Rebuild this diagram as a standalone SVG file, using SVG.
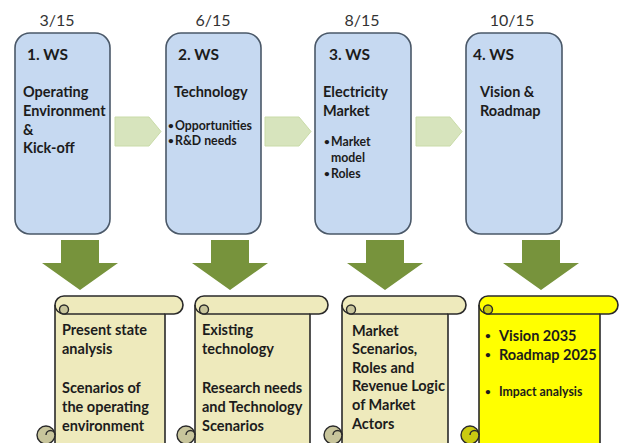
<svg xmlns="http://www.w3.org/2000/svg" width="620" height="443" viewBox="0 0 620 443">
  <defs>
    <style>
      text { font-family: Lato, "Liberation Sans", sans-serif; fill: #1c1c1c; }
      .date { font-size: 16px; fill: #333; text-anchor: middle; }
      .title { font-size: 15.5px; font-weight: bold; }
      .body { font-size: 14.5px; font-weight: bold; }
      .small { font-size: 12.3px; font-weight: bold; }
      .dot { font-size: 10px; font-weight: bold; }
      .ws { fill: #c6d9f1; stroke: #4a5868; stroke-width: 1.6; }
      .step { fill: #d7e4bd; stroke: #c9dba8; stroke-width: 1; }
      .down { fill: #77933c; }
      .paper { fill: #eeeabc; stroke: #2a2a2a; stroke-width: 1.6; stroke-linejoin: round; }
      .paper.hl { fill: #ffff00; }
      .curl { fill: #c8c59c; stroke: #2a2a2a; stroke-width: 1.4; }
      .curl.hl { fill: #caca10; }
      .line { fill: none; stroke: #2a2a2a; stroke-width: 1.4; }
    </style>
  </defs>

  <!-- dates -->
  <g id="dates">
    <text class="date" x="57" y="26">3/15</text>
    <text class="date" x="213" y="26">6/15</text>
    <text class="date" x="362" y="26">8/15</text>
    <text class="date" x="512" y="26">10/15</text>
  </g>

  <!-- workshop nodes -->
  <g id="ws1">
    <rect class="ws" x="15" y="33" width="95" height="201" rx="15"/>
    <text class="title" x="27" y="60">1. WS</text>
    <text class="body" x="23" y="97">Operating</text>
    <text class="body" x="23" y="116">Environment</text>
    <text class="body" x="23" y="135">&amp;</text>
    <text class="body" x="23" y="153">Kick-off</text>
  </g>
  <g id="ws2">
    <rect class="ws" x="166" y="33" width="95" height="201" rx="15"/>
    <text class="title" x="178" y="60">2. WS</text>
    <text class="body" x="174" y="97">Technology</text>
    <text class="dot" x="168" y="129">•</text>
    <text class="small" x="175" y="130">Opportunities</text>
    <text class="dot" x="168" y="144">•</text>
    <text class="small" x="175" y="145">R&amp;D needs</text>
  </g>
  <g id="ws3">
    <rect class="ws" x="315" y="33" width="96" height="201" rx="15"/>
    <text class="title" x="329" y="60">3. WS</text>
    <text class="body" x="323" y="97">Electricity</text>
    <text class="body" x="323" y="116">Market</text>
    <text class="dot" x="324" y="145">•</text>
    <text class="small" x="331" y="146">Market</text>
    <text class="small" x="331" y="162">model</text>
    <text class="dot" x="324" y="177">•</text>
    <text class="small" x="331" y="178">Roles</text>
  </g>
  <g id="ws4">
    <rect class="ws" x="466" y="33" width="96" height="201" rx="15"/>
    <text class="title" x="473" y="60">4. WS</text>
    <text class="body" x="480" y="97">Vision &amp;</text>
    <text class="body" x="480" y="116">Roadmap</text>
  </g>

  <!-- connectors -->
  <g id="connectors">
    <polygon class="step" points="115,117 149,117 161,131.5 149,146 115,146"/>
    <polygon class="step" points="265,117 299,117 311,131.5 299,146 265,146"/>
    <polygon class="step" points="416,117 450,117 462,131.5 450,146 416,146"/>
    <polygon class="down" points="61,240 99,240 99,263 118,263 80,290 42,263 61,263"/>
    <polygon class="down" points="211,240 249,240 249,263 268,263 230,290 192,263 211,263"/>
    <polygon class="down" points="366,240 404,240 404,263 423,263 385,290 347,263 366,263"/>
    <polygon class="down" points="522,240 560,240 560,263 579,263 541,290 503,263 522,263"/>
  </g>

  <!-- result scrolls -->
  <g id="out1">
    <path class="paper" d="M55,305 A9,9 0 0 1 64,296 H174 A9,9 0 0 1 174,314 H165 V452 H55 Z"/>
    <path class="line" d="M64,314 H165 M55,305 A9,9 0 0 0 64,314"/>
    <circle class="curl" cx="64" cy="309.5" r="4.5"/>
    <circle class="curl" cx="46" cy="435" r="9"/>
    <path class="line" d="M46,435 A4.5,4.5 0 0 1 55,435"/>
    <text class="body" x="62" y="335">Present state</text>
    <text class="body" x="62" y="354">analysis</text>
    <text class="body" x="62" y="393">Scenarios of</text>
    <text class="body" x="62" y="412">the operating</text>
    <text class="body" x="62" y="431">environment</text>
  </g>
  <g id="out2">
    <path class="paper" d="M195,305 A9,9 0 0 1 204,296 H319 A9,9 0 0 1 319,314 H310 V452 H195 Z"/>
    <path class="line" d="M204,314 H310 M195,305 A9,9 0 0 0 204,314"/>
    <circle class="curl" cx="204" cy="309.5" r="4.5"/>
    <circle class="curl" cx="186" cy="435" r="9"/>
    <path class="line" d="M186,435 A4.5,4.5 0 0 1 195,435"/>
    <text class="body" x="202" y="335">Existing</text>
    <text class="body" x="202" y="354">technology</text>
    <text class="body" x="202" y="393">Research needs</text>
    <text class="body" x="202" y="412">and Technology</text>
    <text class="body" x="202" y="431">Scenarios</text>
  </g>
  <g id="out3">
    <path class="paper" d="M342,305 A9,9 0 0 1 351,296 H457 A9,9 0 0 1 457,314 H448 V452 H342 Z"/>
    <path class="line" d="M351,314 H448 M342,305 A9,9 0 0 0 351,314"/>
    <circle class="curl" cx="351" cy="309.5" r="4.5"/>
    <circle class="curl" cx="333" cy="435" r="9"/>
    <path class="line" d="M333,435 A4.5,4.5 0 0 1 342,435"/>
    <text class="body" x="352" y="336">Market</text>
    <text class="body" x="352" y="354">Scenarios,</text>
    <text class="body" x="352" y="373">Roles and</text>
    <text class="body" x="352" y="391">Revenue Logic</text>
    <text class="body" x="352" y="410">of Market</text>
    <text class="body" x="352" y="429">Actors</text>
  </g>
  <g id="out4">
    <path class="paper hl" d="M479,305 A9,9 0 0 1 488,296 H609 A9,9 0 0 1 609,314 H600 V452 H479 Z"/>
    <path class="line" d="M488,314 H600 M479,305 A9,9 0 0 0 488,314"/>
    <circle class="curl hl" cx="488" cy="309.5" r="4.5"/>
    <circle class="curl hl" cx="470" cy="435" r="9"/>
    <path class="line" d="M470,435 A4.5,4.5 0 0 1 479,435"/>
    <text class="dot" x="485" y="339">•</text>
    <text class="body" x="499" y="341">Vision 2035</text>
    <text class="dot" x="485" y="358">•</text>
    <text class="body" x="499" y="360">Roadmap 2025</text>
    <text class="dot" x="485" y="395">•</text>
    <text class="small" x="499" y="396">Impact analysis</text>
  </g>
</svg>
